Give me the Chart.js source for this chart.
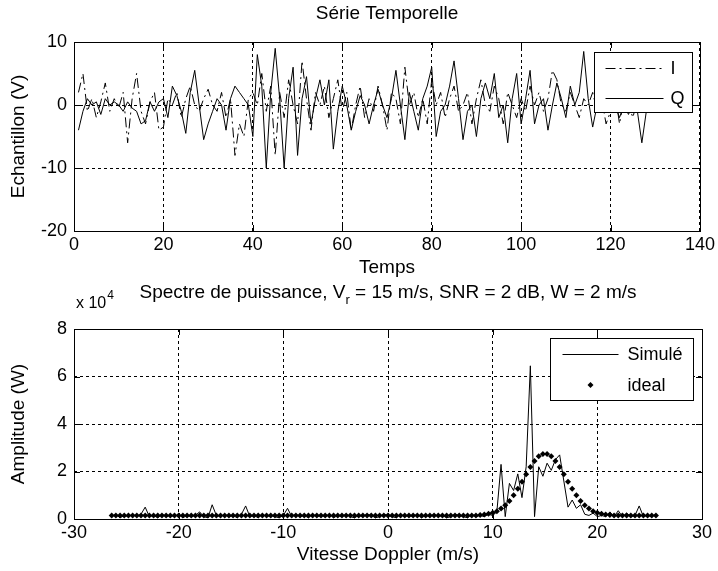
<!DOCTYPE html>
<html>
<head>
<meta charset="utf-8">
<script src="https://cdn.jsdelivr.net/npm/chart.js@4"></script>
<style>
  body { margin: 0; background: #fff; }
  #wrap { position: relative; width: 718px; height: 571px; }
  canvas { position: absolute; left: 0; }
</style>
</head>
<body>
<div id="wrap">
  <canvas id="serie" width="718" height="280" style="top:0"></canvas>
  <canvas id="spectre" width="718" height="291" style="top:280px"></canvas>
</div>
<script>
// Série temporelle : échantillons 1..128, voies I et Q (V)
const temps = Array.from({ length: 128 }, (_, i) => i + 1);
const serieI = [
  2, 5, -1, 1, -2, 0.5, 3.5, -1, 1, -0.5,
  2, -6, 1, 5, -1, -3, 0.5, 2, -4, -3.5,
  1, 0, 2, -2, 1, 3, 0, -1, 1, 2.5,
  0, -1, 2, -2, 1, -8, -3, -5, 1, 2,
  0, 5, -1, 3, -8, 2, -2, 4, 0, -3,
  7, 1, -4, 2, 0, 3, -2, 1, 4, -1,
  2, -4, 0, 3, -2, 1, -1, 3, 0, -4,
  2, 1, -3, 6, 0, 2, -2, 1, -3, 4,
  0, 2, -2, 1, 3, -1, 0, 2, -3, 1,
  4, 0, -1, 3, 1, -3, 2, 0, -2, 1,
  -1, 3, 0, 2, -1, 1, 5.5, 4, 0, -1,
  2, 0, -2, 1, 0, 2, -1, 1, -3, -1,
  2, -3, 1, 0, -2, 1, 0, 1
];
const serieQ = [
  -4, -1, 1, 0, 0.5, -1.5, 1, 0, 0.5, 0,
  -1, 0.5, -0.5, -1, -3, -2.5, 0.5, -1, 0.5, 1,
  -2, 3, 1.5, -1, -4.5, 2, 5.5, 0, -5.5, -3,
  -1, 1, 0, -4, 1, 3, 2, 1, 0, -5,
  8, 3, -10, 2, 9, 1, -10, 1, 6, -8,
  1, 4.5, -3, 1, 4, 0, 4, -7, -1, 3,
  0, -4, -1, 1.5, 0, -3, 0, 2.5, 0, -2,
  1, 5.5, 0, -5.5, 2, -1, -4, 1, 3, 6,
  -5, -1, 0, 3, 7, 1, -5.5, -1, 0, -5,
  1, 3.5, 1, 5, -2, 0, -6, 1, 5, -3,
  1, 5.5, -3, 0, 1, -4, 0, 3.5, 1, -2,
  3, 0, 2, 8.5, 1, -3.5, 0, 1, -1, 0.5,
  0, -2, 0, -1.5, 0, -1, -6, -1
];

// Spectre de puissance (amplitude en unités de 10^4 W)
const vitesse = [
  -26.4, -26.0, -25.6, -25.2, -24.8, -24.4, -24.0, -23.6, -23.2, -22.8,
  -22.4, -22.0, -21.6, -21.2, -20.8, -20.4, -20.0, -19.6, -19.2, -18.8,
  -18.4, -18.0, -17.6, -17.2, -16.8, -16.4, -16.0, -15.6, -15.2, -14.8,
  -14.4, -14.0, -13.6, -13.2, -12.8, -12.4, -12.0, -11.6, -11.2, -10.8,
  -10.4, -10.0, -9.6, -9.2, -8.8, -8.4, -8.0, -7.6, -7.2, -6.8,
  -6.4, -6.0, -5.6, -5.2, -4.8, -4.4, -4.0, -3.6, -3.2, -2.8,
  -2.4, -2.0, -1.6, -1.2, -0.8, -0.4, 0, 0.4, 0.8, 1.2,
  1.6, 2.0, 2.4, 2.8, 3.2, 3.6, 4.0, 4.4, 4.8, 5.2,
  5.6, 6.0, 6.4, 6.8, 7.2, 7.6, 8.0, 8.4, 8.8, 9.2,
  9.6, 10.0, 10.4, 10.8, 11.2, 11.6, 12.0, 12.4, 12.8, 13.2,
  13.6, 14.0, 14.4, 14.8, 15.2, 15.6, 16.0, 16.4, 16.8, 17.2,
  17.6, 18.0, 18.4, 18.8, 19.2, 19.6, 20.0, 20.4, 20.8, 21.2,
  21.6, 22.0, 22.4, 22.8, 23.2, 23.6, 24.0, 24.4, 24.8, 25.2,
  25.6
];
const simule = [
  0.1, 0.2, 0.05, 0.15, 0.1, 0.2, 0.1, 0.2, 0.5, 0.1,
  0.15, 0.05, 0.2, 0.1, 0.15, 0.1, 0.2, 0.05, 0.15, 0.1,
  0.15, 0.3, 0.1, 0.05, 0.6, 0.15, 0.1, 0.2, 0.1, 0.15,
  0.05, 0.2, 0.55, 0.1, 0.15, 0.05, 0.2, 0.1, 0.15, 0.1,
  0.05, 0.15, 0.45, 0.1, 0.2, 0.1, 0.15, 0.05, 0.2, 0.1,
  0.15, 0.1, 0.2, 0.05, 0.15, 0.1, 0.2, 0.1, 0.05, 0.15,
  0.1, 0.2, 0.15, 0.05, 0.1, 0.2, 0.15, 0.1, 0.05, 0.2,
  0.1, 0.15, 0.1, 0.2, 0.05, 0.15, 0.1, 0.2, 0.1, 0.15,
  0.05, 0.1, 0.2, 0.15, 0.1, 0.05, 0.2, 0.1, 0.15, 0.1,
  0.2, 0.15, 0.3, 2.3, 0.1, 1.5, 1.2, 1.9, 0.9, 2.2,
  6.45, 0.1, 2.2, 1.8, 2.35, 2.05, 2.5, 2.7, 1.6, 0.5,
  0.8, 0.45, 0.6, 0.2, 0.15, 0.25, 0.1, 0.15, 0.1, 0.3,
  0.1, 0.35, 0.1, 0.25, 0.1, 0.15, 0.55, 0.1, 0.15, 0.1,
  0.2
];
const ideal = [
  0.15, 0.15, 0.15, 0.15, 0.15, 0.15, 0.15, 0.15, 0.15, 0.15,
  0.15, 0.15, 0.15, 0.15, 0.15, 0.15, 0.15, 0.15, 0.15, 0.15,
  0.15, 0.15, 0.15, 0.15, 0.15, 0.15, 0.15, 0.15, 0.15, 0.15,
  0.15, 0.15, 0.15, 0.15, 0.15, 0.15, 0.15, 0.15, 0.15, 0.15,
  0.15, 0.15, 0.15, 0.15, 0.15, 0.15, 0.15, 0.15, 0.15, 0.15,
  0.15, 0.15, 0.15, 0.15, 0.15, 0.15, 0.15, 0.15, 0.15, 0.15,
  0.15, 0.15, 0.15, 0.15, 0.15, 0.15, 0.15, 0.15, 0.15, 0.15,
  0.15, 0.15, 0.15, 0.15, 0.15, 0.15, 0.15, 0.15, 0.15, 0.15,
  0.15, 0.15, 0.15, 0.15, 0.15, 0.15, 0.15, 0.15, 0.17, 0.19,
  0.22, 0.26, 0.33, 0.44, 0.58, 0.76, 1.0, 1.27, 1.57, 1.88,
  2.19, 2.44, 2.64, 2.74, 2.74, 2.64, 2.44, 2.19, 1.88, 1.57,
  1.27, 1.0, 0.76, 0.58, 0.44, 0.33, 0.26, 0.22, 0.19, 0.17,
  0.15, 0.15, 0.15, 0.15, 0.15, 0.15, 0.15, 0.15, 0.15, 0.15,
  0.15
];

const POLICE = "'Liberation Sans', Arial, sans-serif";
Chart.defaults.font.family = POLICE;
Chart.defaults.font.size = 18;
Chart.defaults.color = '#000';

// cadre, graduations intérieures, légende encadrée et textes à la MATLAB
const cadreMatlab = {
  id: 'cadreMatlab',
  afterDatasetsDraw(chart, args, opts) {
    const { ctx, chartArea: a, scales } = chart;
    ctx.save();
    ctx.strokeStyle = '#000';
    ctx.fillStyle = '#000';
    ctx.lineWidth = 1;
    ctx.setLineDash([]);

    ctx.beginPath();
    scales.x.ticks.forEach((t, i) => {
      const px = Math.round(scales.x.getPixelForTick(i)) + 0.5;
      ctx.moveTo(px, a.bottom); ctx.lineTo(px, a.bottom - 6);
      ctx.moveTo(px, a.top); ctx.lineTo(px, a.top + 6);
    });
    scales.y.ticks.forEach((t, i) => {
      const py = Math.round(scales.y.getPixelForTick(i)) + 0.5;
      ctx.moveTo(a.left, py); ctx.lineTo(a.left + 6, py);
      ctx.moveTo(a.right, py); ctx.lineTo(a.right - 6, py);
    });
    ctx.stroke();
    ctx.strokeRect(Math.round(a.left) + 0.5, Math.round(a.top) + 0.5,
      Math.round(a.right - a.left), Math.round(a.bottom - a.top));

    // légende
    const lg = opts.legende;
    const bx = Math.round(a.right - lg.dx - lg.w) + 0.5;
    const by = Math.round(a.top + lg.dy) + 0.5;
    ctx.fillStyle = '#fff';
    ctx.fillRect(bx, by, lg.w, lg.h);
    ctx.strokeRect(bx, by, lg.w, lg.h);
    ctx.font = '18px ' + POLICE;
    ctx.textBaseline = 'middle';
    ctx.textAlign = 'left';
    chart.data.datasets.forEach((ds, i) => {
      const y = Math.round(by + lg.h * (2 * i + 1) / 4);
      ctx.fillStyle = '#000';
      if (ds.showLine === false) {
        const cx = bx + (lg.x0 + lg.x1) / 2, r = ds.pointRadius;
        ctx.beginPath();
        ctx.moveTo(cx, y - r); ctx.lineTo(cx + r, y);
        ctx.lineTo(cx, y + r); ctx.lineTo(cx - r, y);
        ctx.closePath();
        ctx.fill();
      } else {
        ctx.setLineDash(ds.borderDash || []);
        ctx.beginPath();
        ctx.moveTo(bx + lg.x0, y + 0.5);
        ctx.lineTo(bx + lg.x1, y + 0.5);
        ctx.stroke();
        ctx.setLineDash([]);
      }
      ctx.fillText(ds.label, bx + lg.tx, y + 1);
    });

    // titre (avec indice éventuel)
    const cx = (a.left + a.right) / 2;
    const parts = opts.titre;
    let total = 0;
    parts.forEach(p => {
      ctx.font = (p.sub ? '13px ' : '19px ') + POLICE;
      p.w = ctx.measureText(p.t).width;
      total += p.w;
    });
    let x = cx - total / 2;
    parts.forEach(p => {
      ctx.font = (p.sub ? '13px ' : '19px ') + POLICE;
      ctx.fillText(p.t, x, opts.titreY + (p.sub ? 7 : 0));
      x += p.w;
    });

    // multiplicateur de l'axe des ordonnées
    if (opts.exposant) {
      ctx.font = '16px ' + POLICE;
      ctx.fillText('x 10', a.left + 2, a.top - 25);
      const w = ctx.measureText('x 10').width;
      ctx.font = '12px ' + POLICE;
      ctx.fillText(opts.exposant, a.left + 3 + w, a.top - 33);
    }
    ctx.restore();
  }
};

const grille = { color: '#000', lineWidth: 1, drawTicks: false };
const bordure = { display: false, dash: [3, 3] };
const titreAxe = { size: 19 };

new Chart(document.getElementById('serie'), {
  type: 'line',
  data: {
    datasets: [{
      label: 'I',
      data: temps.map((t, i) => ({ x: t, y: serieI[i] })),
      borderColor: '#000',
      borderWidth: 1,
      borderDash: [10, 4, 2, 4],
      pointRadius: 0,
      order: 1
    }, {
      label: 'Q',
      data: temps.map((t, i) => ({ x: t, y: serieQ[i] })),
      borderColor: '#000',
      borderWidth: 1,
      pointRadius: 0,
      order: 0
    }]
  },
  options: {
    responsive: false,
    animation: false,
    layout: { padding: { top: 42, right: 18, bottom: 0, left: 0 } },
    scales: {
      x: {
        type: 'linear', min: 0, max: 140,
        ticks: { stepSize: 20, padding: 3, maxRotation: 0 },
        grid: grille, border: bordure,
        title: { display: true, text: 'Temps', font: titreAxe, padding: { top: 0, bottom: 1 } },
        afterFit: s => { s.height = 49; }
      },
      y: {
        min: -20, max: 10,
        ticks: { stepSize: 10, padding: 7 },
        grid: grille, border: bordure,
        title: { display: true, text: 'Echantillon (V)', font: titreAxe, padding: { top: 7, bottom: 0 } },
        afterFit: s => { s.width = 74; }
      }
    },
    plugins: {
      legend: { display: false },
      tooltip: { enabled: false },
      cadreMatlab: {
        legende: { w: 98, h: 60, dx: 8, dy: 10, x0: 11, x1: 69, tx: 76 },
        titre: [{ t: 'Série Temporelle' }],
        titreY: 14
      }
    }
  },
  plugins: [cadreMatlab]
});

new Chart(document.getElementById('spectre'), {
  type: 'line',
  data: {
    datasets: [{
      label: 'Simulé',
      data: vitesse.map((v, i) => ({ x: v, y: simule[i] })),
      borderColor: '#000',
      borderWidth: 1,
      pointRadius: 0,
      order: 1
    }, {
      label: 'ideal',
      data: vitesse.map((v, i) => ({ x: v, y: ideal[i] })),
      showLine: false,
      pointStyle: 'rectRot',
      pointRadius: 3,
      pointBackgroundColor: '#000',
      pointBorderWidth: 0,
      order: 0
    }]
  },
  options: {
    responsive: false,
    animation: false,
    layout: { padding: { top: 49, right: 16, bottom: 0, left: 0 } },
    scales: {
      x: {
        type: 'linear', min: -30, max: 30,
        ticks: { stepSize: 10, padding: 3, maxRotation: 0 },
        grid: grille, border: bordure,
        title: { display: true, text: 'Vitesse Doppler (m/s)', font: titreAxe, padding: { top: 0, bottom: 5 } },
        afterFit: s => { s.height = 52; }
      },
      y: {
        min: 0, max: 8,
        ticks: { stepSize: 2, padding: 7 },
        grid: grille, border: bordure,
        title: { display: true, text: 'Amplitude (W)', font: titreAxe, padding: { top: 7, bottom: 0 } },
        afterFit: s => { s.width = 74; }
      }
    },
    plugins: {
      legend: { display: false },
      tooltip: { enabled: false },
      cadreMatlab: {
        legende: { w: 143, h: 62, dx: 9, dy: 9, x0: 12, x1: 68, tx: 77 },
        titre: [
          { t: 'Spectre de puissance, V' },
          { t: 'r', sub: true },
          { t: ' = 15 m/s, SNR = 2 dB, W = 2 m/s' }
        ],
        titreY: 13,
        exposant: '4'
      }
    }
  },
  plugins: [cadreMatlab]
});
</script>
</body>
</html>
